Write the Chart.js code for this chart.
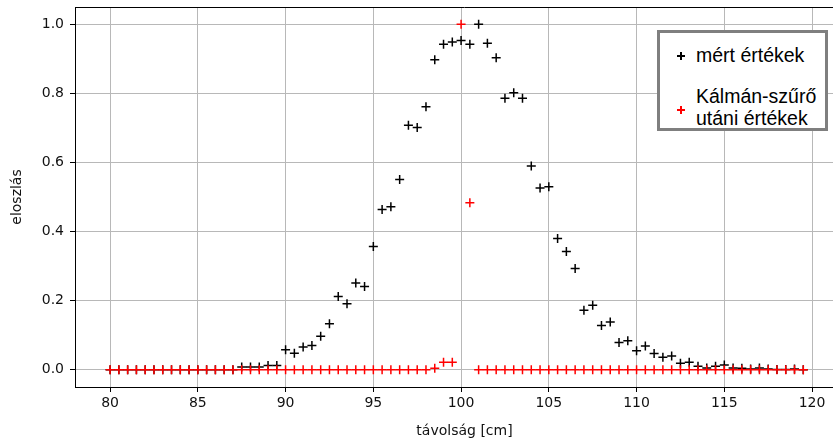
<!DOCTYPE html>
<html>
<head>
<meta charset="utf-8">
<script src="https://cdn.jsdelivr.net/npm/chart.js@4.4.1/dist/chart.umd.min.js"></script>
<style>
    html, body { margin: 0; padding: 0; background: #fff; overflow: hidden; }
    #wrap { position: relative; width: 833px; height: 443px; overflow: hidden; }
    #chart { display: block; }
    #legend {
        position: absolute; left: 657px; top: 30px; width: 165px; height: 95px;
        border: 3px solid #7f7f7f; background: #fff;
        font-family: "Liberation Sans", Arial, sans-serif; font-size: 19.5px; color: #000;
    }
    .item { position: absolute; left: 36px; line-height: 22px; white-space: nowrap; }
    .mark { position: absolute; left: 17px; width: 8px; height: 8px; }
    .mark::before, .mark::after { content: ""; position: absolute; background: currentColor; }
    .mark::before { left: 0; top: 3px; width: 8px; height: 1.5px; }
    .mark::after { left: 3.25px; top: 0; width: 1.5px; height: 8px; }
</style>
</head>
<body>
<div id="wrap">
    <!-- the plot frame runs past the right edge of the picture, so the canvas is wider than the window -->
    <canvas id="chart" width="860" height="443"></canvas>
    <div id="legend">
        <span class="mark" style="top:19px;color:#000"></span>
        <div class="item" style="top:11px">mért értékek</div>
        <span class="mark" style="top:73px;color:#f00"></span>
        <div class="item" style="top:52px">Kálmán-szűrő<br>utáni értékek</div>
    </div>
</div>
<script>
const distances = [
    80, 80.5, 81, 81.5, 82, 82.5, 83, 83.5, 84, 84.5,
    85, 85.5, 86, 86.5, 87, 87.5, 88, 88.5, 89, 89.5,
    90, 90.5, 91, 91.5, 92, 92.5, 93, 93.5, 94, 94.5,
    95, 95.5, 96, 96.5, 97, 97.5, 98, 98.5, 99, 99.5,
    100, 100.5, 101, 101.5, 102, 102.5, 103, 103.5, 104, 104.5,
    105, 105.5, 106, 106.5, 107, 107.5, 108, 108.5, 109, 109.5,
    110, 110.5, 111, 111.5, 112, 112.5, 113, 113.5, 114, 114.5,
    115, 115.5, 116, 116.5, 117, 117.5, 118, 118.5, 119, 119.5
];

// mért értékek
const measured = [
    0, 0, 0, 0, 0, 0, 0, 0, 0, 0,
    0, 0, 0, 0, 0, 0.008, 0.008, 0.008, 0.012, 0.012,
    0.058, 0.048, 0.066, 0.07, 0.097, 0.133, 0.212, 0.191, 0.251, 0.241,
    0.357, 0.464, 0.472, 0.551, 0.708, 0.701, 0.761, 0.897, 0.942, 0.949,
    0.953, 0.942, 1.0, 0.945, 0.903, 0.786, 0.802, 0.786, 0.59, 0.526,
    0.53, 0.38, 0.342, 0.293, 0.172, 0.187, 0.128, 0.138, 0.079, 0.084,
    0.055, 0.069, 0.047, 0.036, 0.04, 0.019, 0.022, 0.01, 0.005, 0.01,
    0.014, 0.005, 0.004, 0.002, 0.005, 0.002, 0.001, 0.001, 0.002, 0
];

// Kálmán-szűrő utáni értékek
const filtered = [
    0, 0, 0, 0, 0, 0, 0, 0, 0, 0,
    0, 0, 0, 0, 0, 0, 0, 0, 0, 0,
    0, 0, 0, 0, 0, 0, 0, 0, 0, 0,
    0, 0, 0, 0, 0, 0, 0, 0.004, 0.022, 0.022,
    1.0, 0.483, 0, 0, 0, 0, 0, 0, 0, 0,
    0, 0, 0, 0, 0, 0, 0, 0, 0, 0,
    0, 0, 0, 0, 0, 0, 0, 0, 0, 0,
    0, 0, 0, 0, 0, 0, 0, 0, 0, 0
];

const xTicks = [80, 85, 90, 95, 100, 105, 110, 115, 120];
const yTicks = [0.0, 0.2, 0.4, 0.6, 0.8, 1.0];

const toPoints = (ys) => distances.map((x, i) => ({ x: x, y: ys[i] }));

const tickFont = { family: "DejaVu Sans", size: 14 };

// matplotlib-like frame line on top
const topFrame = {
    id: "topFrame",
    afterDatasetsDraw(chart) {
        const { ctx, chartArea } = chart;
        ctx.save();
        ctx.strokeStyle = "#000";
        ctx.lineWidth = 1;
        ctx.beginPath();
        ctx.moveTo(chartArea.left, chartArea.top + 0.5);
        ctx.lineTo(chartArea.right, chartArea.top + 0.5);
        ctx.stroke();
        ctx.restore();
    },
};

new Chart(document.getElementById("chart"), {
    type: "scatter",
    data: {
        datasets: [
            {
                label: "Kálmán-szűrő utáni értékek",
                data: toPoints(filtered),
                pointStyle: "cross",
                pointRadius: 4.5,
                borderColor: "#ff0000",
                backgroundColor: "#ff0000",
                borderWidth: 1.5,
            },
            {
                label: "mért értékek",
                data: toPoints(measured),
                pointStyle: "cross",
                pointRadius: 4.5,
                borderColor: "#000000",
                backgroundColor: "#000000",
                borderWidth: 1.5,
            },
        ],
    },
    options: {
        responsive: false,
        animation: false,
        layout: { padding: { top: 7, right: 0, left: 0, bottom: 0 } },
        plugins: { legend: { display: false }, tooltip: { enabled: false } },
        scales: {
            x: {
                type: "linear",
                min: 78,
                max: 122.39,
                afterFit: (scale) => {
                    scale.height = 56;
                    scale.paddingLeft = 0;
                    scale.paddingRight = 0;
                },
                afterBuildTicks: (scale) => {
                    scale.ticks = xTicks.map((v) => ({ value: v }));
                },
                ticks: { font: tickFont, color: "#111", padding: 3, maxRotation: 0, callback: (v) => String(v) },
                grid: { color: "#b8b8b8", lineWidth: 1, tickLength: 5, tickColor: "#000" },
                border: { color: "#000", width: 1 },
                title: { display: true, text: "távolság [cm]", font: tickFont, color: "#111", padding: { top: 2, bottom: 3 } },
            },
            y: {
                type: "linear",
                min: -0.05,
                max: 1.05,
                afterFit: (scale) => {
                    scale.width = 75;
                    scale.paddingTop = 0;
                    scale.paddingBottom = 0;
                },
                afterBuildTicks: (scale) => {
                    scale.ticks = yTicks.map((v) => ({ value: v }));
                },
                ticks: { font: tickFont, color: "#111", padding: 6, callback: (v) => v.toFixed(1) },
                grid: { color: "#b8b8b8", lineWidth: 1, tickLength: 5, tickColor: "#000" },
                border: { color: "#000", width: 1 },
                title: { display: true, text: "eloszlás", font: tickFont, color: "#111", padding: { top: 9, bottom: 0 } },
            },
        },
    },
    plugins: [topFrame],
});
</script>
</body>
</html>
